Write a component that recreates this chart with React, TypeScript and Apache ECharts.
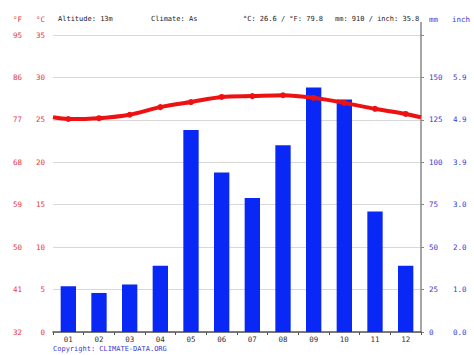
import React, { useEffect, useRef } from "react";
import * as echarts from "echarts";

const months = ["01", "02", "03", "04", "05", "06", "07", "08", "09", "10", "11", "12"];
const precipMm = [27, 23, 28, 39, 119, 94, 79, 110, 144, 137, 71, 39];
const tempC = [25.1, 25.2, 25.6, 26.5, 27.1, 27.7, 27.8, 27.9, 27.6, 27.0, 26.3, 25.7];
const tempEdgeLeft = 25.3;
const tempEdgeRight = 25.3;
const headerTexts = ["Altitude: 13m", "Climate: As", "°C: 26.6 / °F: 79.8", "mm: 910 / inch: 35.8"];
const copyright = "Copyright: CLIMATE-DATA.ORG";

const FONT = "DejaVu Sans Mono";
const RED = "#e8383d";
const BLUE = "#3a3ad8";

export default function App() {
  const ref = useRef<HTMLDivElement>(null);
  useEffect(() => {
    if (!ref.current) return;
    const chart = echarts.init(ref.current, null, { renderer: "svg" });
    const lineData: [number, number][] = [[0.5, tempEdgeLeft]];
    tempC.forEach((t, i) => lineData.push([i + 1, t]));
    lineData.push([12.5, tempEdgeRight]);

    const grid = { left: 53, right: 53, top: 35, bottom: 23 };
    chart.setOption({
      animation: false,
      grid,
      xAxis: [
        {
          type: "category",
          data: months,
          boundaryGap: true,
          axisLine: { lineStyle: { color: "#555", width: 1.5 } },
          axisTick: { show: true, length: 3, lineStyle: { color: "#555" } },
          axisLabel: { color: "#333", fontFamily: FONT, fontSize: 7.5, margin: 3 },
          splitLine: { show: false },
        },
        {
          type: "value",
          min: 0.5,
          max: 12.5,
          show: false,
        },
      ],
      yAxis: [
        {
          type: "value",
          min: 0,
          max: 35,
          interval: 5,
          position: "left",
          axisLine: { show: false },
          axisTick: { show: false },
          axisLabel: { color: RED, fontFamily: FONT, fontSize: 7.5, margin: 8 },
          splitLine: { lineStyle: { color: "#d8d8d8", width: 1 } },
        },
        {
          type: "value",
          min: 0,
          max: 175,
          interval: 25,
          position: "right",
          axisLine: { show: true, lineStyle: { color: "#888", width: 1.5 } },
          axisTick: { show: true, length: 3, lineStyle: { color: "#888" } },
          axisLabel: {
            color: BLUE,
            fontFamily: FONT,
            fontSize: 7.5,
            margin: 8,
            formatter: (v: number) => (v >= 175 ? "" : String(v)),
          },
          splitLine: { show: false },
        },
        {
          type: "value",
          min: 0,
          max: 35,
          interval: 5,
          position: "left",
          offset: 23,
          axisLine: { show: false },
          axisTick: { show: false },
          axisLabel: {
            color: RED,
            fontFamily: FONT,
            fontSize: 7.5,
            margin: 8,
            formatter: (v: number) => String(Math.round((v * 9) / 5 + 32)),
          },
          splitLine: { show: false },
        },
        {
          type: "value",
          min: 0,
          max: 175,
          interval: 25,
          position: "right",
          offset: 24,
          axisLine: { show: false },
          axisTick: { show: false },
          axisLabel: {
            color: BLUE,
            fontFamily: FONT,
            fontSize: 7.5,
            margin: 8,
            formatter: (v: number) => (v >= 175 ? "" : (v / 25.4).toFixed(1)),
          },
          splitLine: { show: false },
        },
      ],
      series: [
        {
          type: "bar",
          data: precipMm,
          xAxisIndex: 0,
          yAxisIndex: 1,
          barWidth: "50%",
          itemStyle: { color: "#0a28f5" },
          z: 2,
        },
        {
          type: "line",
          data: lineData,
          xAxisIndex: 1,
          yAxisIndex: 0,
          smooth: 0.3,
          lineStyle: { color: "#ee1111", width: 4 },
          itemStyle: { color: "#ee1111" },
          symbol: (_v: any, p: any) => (p.dataIndex === 0 || p.dataIndex === lineData.length - 1 ? "none" : "circle"),
          symbolSize: 6,
          z: 5,
        },
      ],
      graphic: [
        { type: "text", left: 13, top: 15, style: { text: "°F", fill: RED, font: `7.5px '${FONT}'` } },
        { type: "text", left: 36, top: 15, style: { text: "°C", fill: RED, font: `7.5px '${FONT}'` } },
        { type: "text", left: 58, top: 15, style: { text: headerTexts[0], fill: "#222", font: `7px '${FONT}'` } },
        { type: "text", left: 151, top: 15, style: { text: headerTexts[1], fill: "#222", font: `7px '${FONT}'` } },
        { type: "text", left: 243, top: 15, style: { text: headerTexts[2], fill: "#222", font: `7px '${FONT}'` } },
        { type: "text", left: 335, top: 15, style: { text: headerTexts[3], fill: "#222", font: `7px '${FONT}'` } },
        { type: "text", left: 429, top: 15, style: { text: "mm", fill: BLUE, font: `7.5px '${FONT}'` } },
        { type: "text", left: 452, top: 15, style: { text: "inch", fill: BLUE, font: `7.5px '${FONT}'` } },
        {
          type: "line",
          shape: { x1: 421, y1: 22, x2: 421, y2: 35 },
          style: { stroke: "#888", lineWidth: 1.5 },
        },
        { type: "text", left: 53, top: 345, style: { text: copyright, fill: BLUE, font: `7px '${FONT}'` } },
      ],
    });
    return () => chart.dispose();
  }, []);
  return (
    <div
      ref={ref}
      style={{ position: "fixed", left: 0, top: 0, width: 474, height: 355, background: "#fff" }}
    />
  );
}
